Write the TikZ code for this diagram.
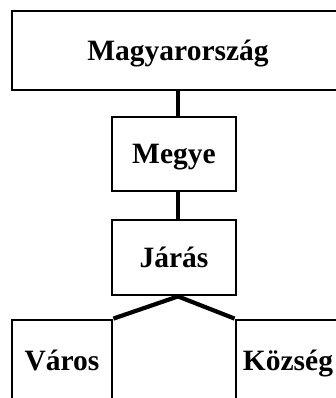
\documentclass[tikz,border=0pt]{standalone}
\usepackage{fontspec}
\setmainfont{Liberation Serif}
\begin{document}
\begin{tikzpicture}[x=1pt,y=-1pt,
  box/.style={draw=black, line width=2.8pt, inner sep=0pt, text height=20pt, text depth=0pt,
    font=\fontsize{29.5}{34}\selectfont\bfseries},
  link/.style={line width=3.8pt, draw=black}]
\useasboundingbox (0,0) rectangle (336,398);
\clip (0,0) rectangle (336,398);
\node[box, minimum width=332pt, minimum height=79pt] (hu) at (178,50.5) {Magyarország};
\node[box, minimum width=124pt, minimum height=74pt] (megye) at (174,154) {Megye};
\node[box, minimum width=124pt, minimum height=75pt] (jaras) at (174,257.5) {Járás};
\node[box, minimum width=100pt, minimum height=80pt] (varos) at (62,360) {Város};
\node[box, minimum width=104pt, minimum height=80pt] (kozseg) at (288,360) {Község};
\coordinate (c) at (178,0);
\draw[link] (hu.south -| c) -- (megye.north -| c);
\draw[link] (megye.south -| c) -- (jaras.north -| c);
\draw[link, line width=4.2pt] (varos.north east) -- (jaras.south -| c) -- (kozseg.north west);
\end{tikzpicture}
\end{document}
